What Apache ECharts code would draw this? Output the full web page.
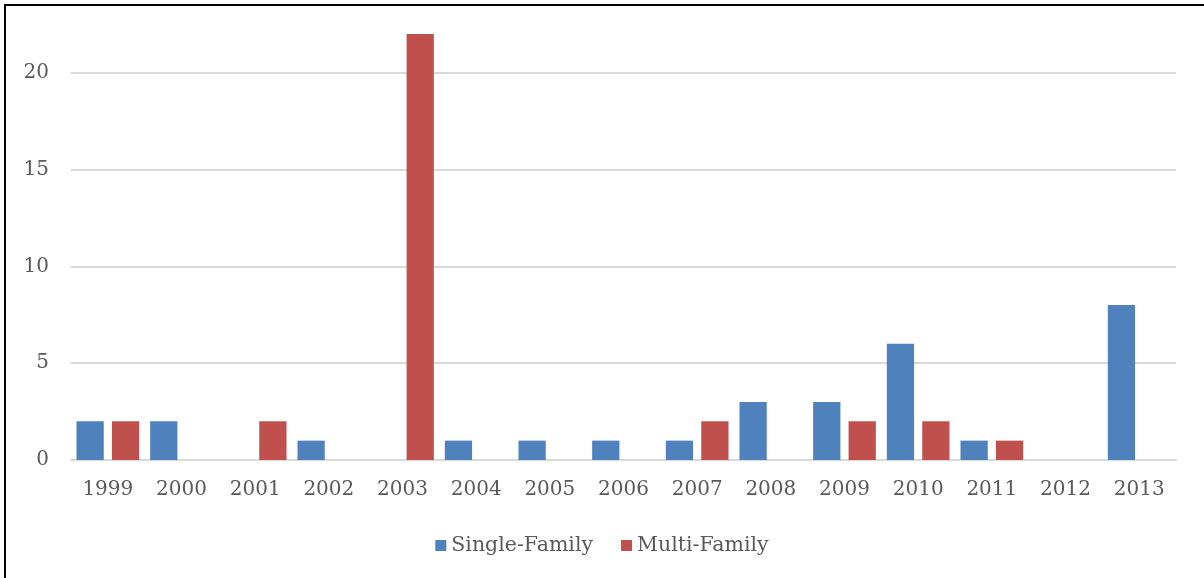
<!DOCTYPE html>
<html>
<head>
<meta charset="utf-8">
<script src="https://cdn.jsdelivr.net/npm/echarts@6/dist/echarts.min.js"></script>
<style>
  html, body { margin: 0; padding: 0; background: #fff; }
  #frame { position: absolute; left: 4px; top: 4px; width: 1200px; height: 574px;
           border-left: 2px solid #000; border-top: 2px solid #000; box-sizing: border-box; }
  #main { position: absolute; left: 0; top: 0; width: 1204px; height: 578px; }
</style>
</head>
<body>
<div id="frame"></div>
<div id="main"></div>
<script>
// categories and values
const years = ['1999', '2000', '2001', '2002', '2003', '2004', '2005', '2006',
  '2007', '2008', '2009', '2010', '2011', '2012', '2013']
const singleFamily = [2, 2, 0, 1, 0, 1, 1, 1, 1, 3, 3, 6, 1, 0, 8]
const multiFamily = [2, 0, 2, 0, 22, 0, 0, 0, 2, 0, 2, 2, 1, 0, 0]

const font = '"DejaVu Serif", serif'
const textColor = '#595959'

const myChart = echarts.init(document.getElementById('main'))
const option = {
  animation: false,
  color: ['#4F81BD', '#C0504D'],
  grid: { left: 71, right: 28, top: 34, bottom: 118 },
  legend: {
    bottom: 17,
    left: 'center',
    icon: 'rect',
    itemWidth: 11,
    itemHeight: 11,
    itemGap: 28,
    textStyle: { fontFamily: font, fontSize: 20.5, color: textColor },
    data: ['Single-Family', 'Multi-Family']
  },
  xAxis: {
    type: 'category',
    data: years,
    axisLine: { lineStyle: { color: '#d9d9d9', width: 2 } },
    axisTick: { show: false },
    axisLabel: { fontFamily: font, fontSize: 20, color: textColor, margin: 20 }
  },
  yAxis: {
    type: 'value',
    min: 0,
    max: 22,
    interval: 5,
    axisLine: { show: false },
    axisTick: { show: false },
    axisLabel: { fontFamily: font, fontSize: 20, color: textColor, margin: 22, showMaxLabel: false },
    splitLine: { showMaxLine: false, lineStyle: { color: '#d9d9d9', width: 2 } }
  },
  series: [
    {
      name: 'Single-Family',
      type: 'bar',
      barWidth: '37%',
      barGap: '30%',
      data: singleFamily
    },
    {
      name: 'Multi-Family',
      type: 'bar',
      barWidth: '37%',
      data: multiFamily
    }
  ]
}
myChart.setOption(option)
</script>
</body>
</html>
